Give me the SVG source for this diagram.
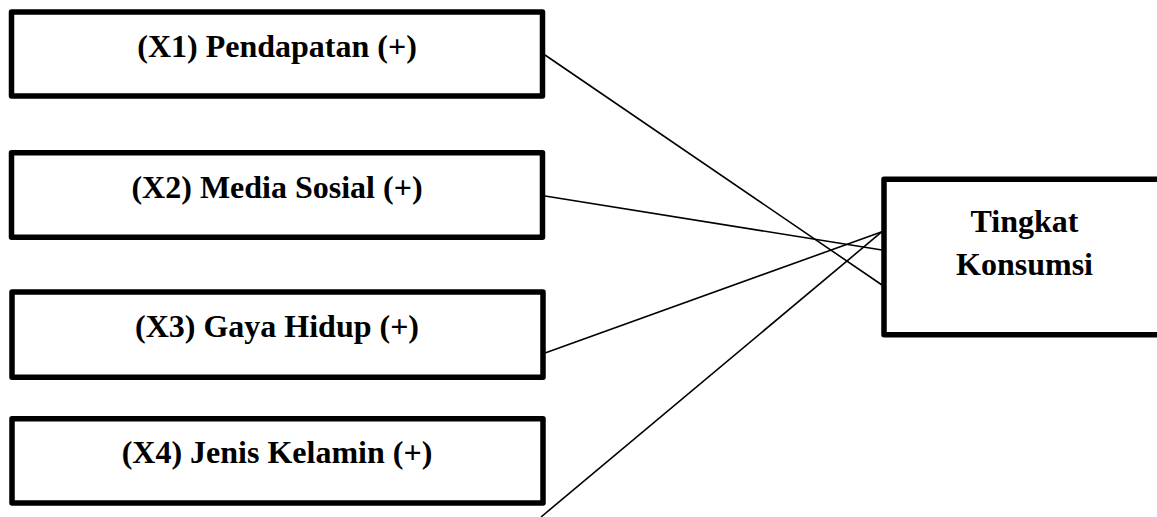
<svg xmlns="http://www.w3.org/2000/svg" width="1157" height="517" viewBox="0 0 1157 517">
<style>
.box{fill:#fff;stroke:#000;stroke-width:5.5;stroke-linejoin:round}
.lbl{font-family:"Liberation Serif","Times New Roman",serif;font-weight:bold;font-size:32px;fill:#000;text-anchor:middle}
.con{stroke:#000;stroke-width:1.6;fill:none}
</style>
<rect width="1157" height="517" fill="#fff"/>
<g id="connectors">
<line class="con" x1="545" y1="55" x2="882" y2="285"/>
<line class="con" x1="545" y1="196" x2="882" y2="250"/>
<line class="con" x1="545" y1="353" x2="882" y2="231.7"/>
<line class="con" x1="541" y1="517" x2="882" y2="231.7"/>
</g>
<g id="x1">
<rect class="box" x="11.5" y="12" width="531" height="84"/>
<text class="lbl" x="277" y="57">(X1) Pendapatan (+)</text>
</g>
<g id="x2">
<rect class="box" x="11.5" y="152.7" width="531" height="84.6"/>
<text class="lbl" x="277" y="198">(X2) Media Sosial (+)</text>
</g>
<g id="x3">
<rect class="box" x="12" y="292" width="531" height="85.3"/>
<text class="lbl" x="277" y="337">(X3) Gaya Hidup (+)</text>
</g>
<g id="x4">
<rect class="box" x="12" y="418.7" width="531" height="84.3"/>
<text class="lbl" x="277" y="463">(X4) Jenis Kelamin (+)</text>
</g>
<g id="y">
<rect class="box" x="884" y="179.3" width="281" height="155.4"/>
<text class="lbl" x="1024.5" y="231.7">Tingkat</text>
<text class="lbl" x="1024.5" y="275">Konsumsi</text>
</g>
</svg>
